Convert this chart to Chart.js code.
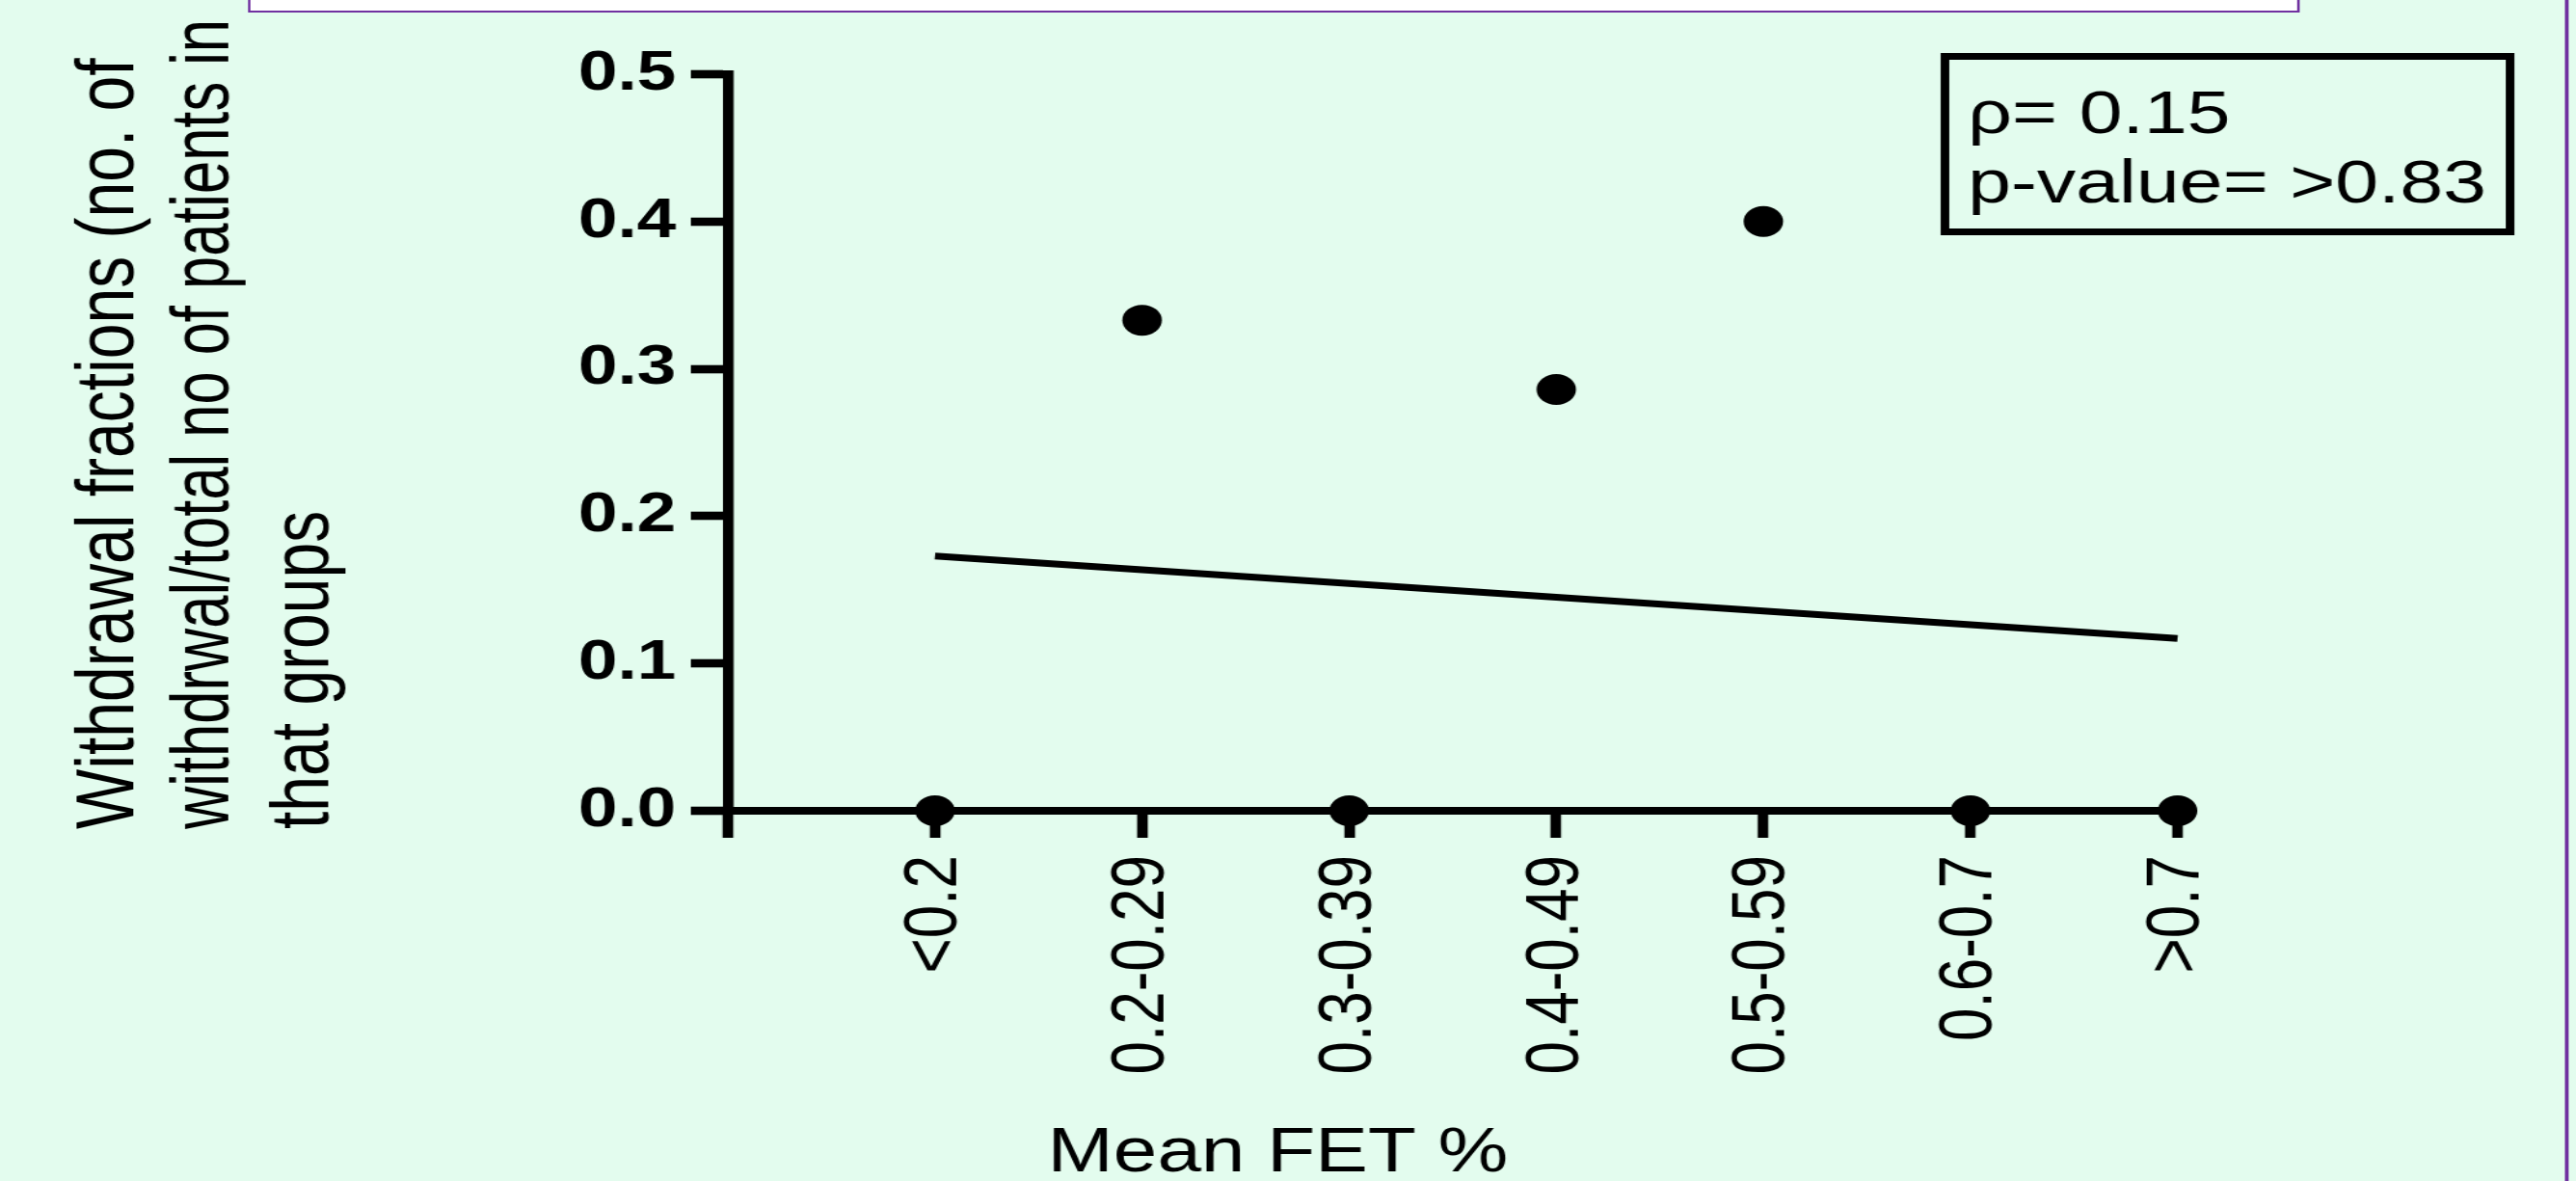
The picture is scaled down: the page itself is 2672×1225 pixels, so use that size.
<!DOCTYPE html>
<html>
<head>
<meta charset="utf-8">
<script src="https://cdn.jsdelivr.net/npm/chart.js@4"></script>
<style>
  html, body { margin: 0; padding: 0; background: #e3fcee; overflow: hidden; }
  /* the original figure is stretched sideways, so draw narrow and stretch */
  #wrap { width: 2088px; height: 1225px; transform: scaleX(1.2797); transform-origin: 0 0; }
</style>
</head>
<body>
<div id="wrap"><canvas id="chart" width="2088" height="1225"></canvas></div>
<script>
const categories = ['<0.2', '0.2-0.29', '0.3-0.39', '0.4-0.49', '0.5-0.59', '0.6-0.7', '>0.7'];
const withdrawal = [0, 0.333, 0, 0.286, 0.4, 0, 0];
const fitEnds = [0.173, 0.117];   // fitted line at first and last group
const yTicks = [0, 0.1, 0.2, 0.3, 0.4, 0.5];
const yTitle = ['Withdrawal fractions (no. of', 'withdrwal/total no of patients in', 'that groups'];
const xTitle = 'Mean FET %';
const statLines = ['\u03c1= 0.15', 'p-value= >0.83'];

const FONT = '"Liberation Sans", Arial, Helvetica, sans-serif';
Chart.defaults.color = '#000';
Chart.defaults.font.family = FONT;

const decor = {
  id: 'decor',
  beforeDraw(chart) {
    const ctx = chart.ctx;
    ctx.save();
    ctx.fillStyle = '#e3fcee';
    ctx.fillRect(0, 0, chart.width, chart.height);
    // white frame peeking in at the top
    ctx.fillStyle = '#ffffff';
    ctx.fillRect(202, -5, 1661, 17);
    ctx.strokeStyle = '#7030a0';
    ctx.lineWidth = 2;
    ctx.strokeRect(202, -5, 1661, 17);
    // purple edge on the right
    ctx.fillStyle = '#7030a0';
    ctx.fillRect(2079, 0, 3, chart.height);
    ctx.restore();
  },
  afterDraw(chart) {
    const ctx = chart.ctx;
    ctx.save();
    ctx.fillStyle = '#000';
    ctx.textBaseline = 'alphabetic';

    // y axis title, three lines, all starting at the same height
    ctx.font = '66px ' + FONT;
    ctx.textAlign = 'left';
    const baseX = [108, 185, 266];
    yTitle.forEach((line, i) => {
      ctx.save();
      ctx.translate(baseX[i], 860);
      ctx.rotate(-Math.PI / 2);
      ctx.fillText(line, 0, 0, 840);
      ctx.restore();
    });

    // stats box
    ctx.strokeStyle = '#000';
    ctx.lineWidth = 7;
    ctx.strokeRect(1576.5, 58.5, 458, 182);
    ctx.font = '63px ' + FONT;
    ctx.fillText(statLines[0], 1595, 138);
    ctx.fillText(statLines[1], 1595, 210);

    // x axis title
    ctx.font = '64px ' + FONT;
    ctx.fillText(xTitle, 849, 1215);
    ctx.restore();
  }
};

const ctx = document.getElementById('chart').getContext('2d');
new Chart(ctx, {
  type: 'scatter',
  data: {
    datasets: [
      {
        type: 'scatter',
        data: withdrawal.map((v, i) => ({ x: i + 1, y: v })),
        backgroundColor: '#000',
        borderColor: '#000',
        borderWidth: 0,
        pointRadius: 16,
        clip: false
      },
      {
        type: 'line',
        data: [{ x: 1, y: fitEnds[0] }, { x: categories.length, y: fitEnds[1] }],
        borderColor: '#000',
        borderWidth: 7,
        pointRadius: 0,
        fill: false,
        clip: false
      }
    ]
  },
  options: {
    responsive: false,
    animation: false,
    devicePixelRatio: 1,
    layout: { padding: { top: 77, right: 323, bottom: 0, left: 0 } },
    plugins: { legend: { display: false }, tooltip: { enabled: false } },
    scales: {
      x: {
        type: 'linear',
        min: 0,
        max: categories.length,
        afterBuildTicks: s => { s.ticks = [{ value: 0 }].concat(categories.map((c, i) => ({ value: i + 1 }))); },
        afterFit: s => { s.height = 384; },
        ticks: {
          autoSkip: false,
          minRotation: 90,
          maxRotation: 90,
          padding: 18,
          font: { size: 62 },
          callback: v => categories[v - 1] || ''
        },
        grid: { drawOnChartArea: false, drawTicks: true, tickLength: 28, tickWidth: 8.6, tickColor: '#000', lineWidth: 0 },
        border: { display: true, color: '#000', width: 8 }
      },
      y: {
        min: 0,
        max: 0.5,
        afterBuildTicks: s => { s.ticks = yTicks.map(v => ({ value: v })); },
        afterFit: s => { s.width = 590; },
        ticks: {
          padding: 12,
          font: { size: 57, weight: 'bold' },
          callback: v => v.toFixed(1)
        },
        grid: { drawOnChartArea: false, drawTicks: true, tickLength: 30, tickWidth: 8.6, tickColor: '#000', lineWidth: 0 },
        border: { display: true, color: '#000', width: 8.6 }
      }
    }
  },
  plugins: [decor]
});
</script>
</body>
</html>
